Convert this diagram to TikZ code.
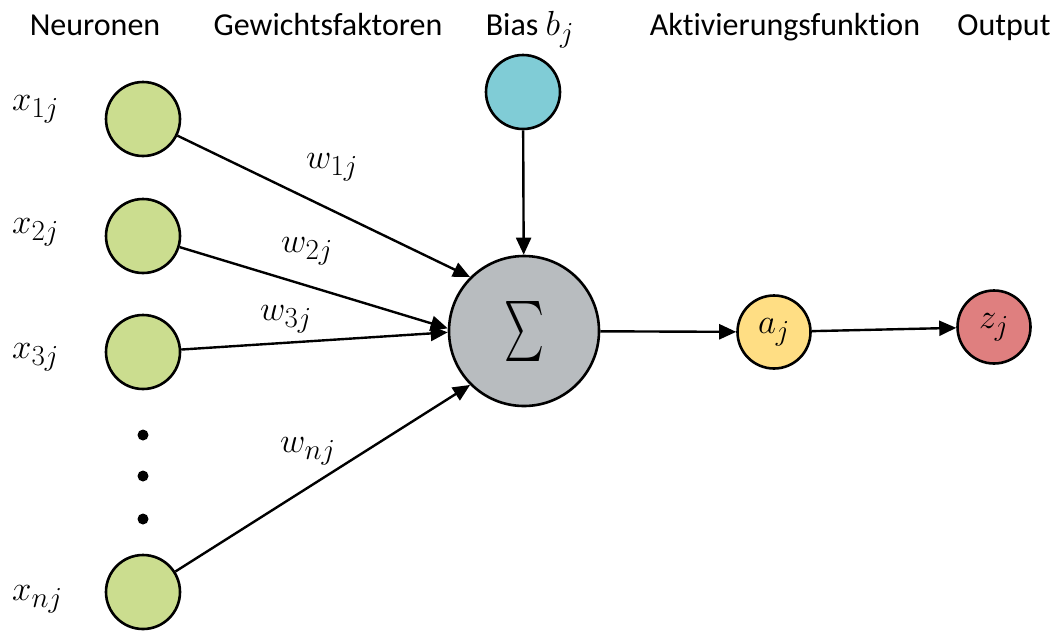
\documentclass[tikz,border=0pt]{standalone}
\usepackage{fix-cm}
\usepackage{exscale}
\usepackage{fontspec}
\setmainfont{Carlito}[Ligatures=NoCommon]
\usetikzlibrary{arrows.meta}
\definecolor{ingreen}{RGB}{203,221,143}
\definecolor{biasblue}{RGB}{128,204,214}
\definecolor{sumgray}{RGB}{184,188,191}
\definecolor{actyellow}{RGB}{255,222,132}
\definecolor{outred}{RGB}{223,127,127}
\newcommand{\lblmath}[1]{\scalebox{1.4}{\fontsize{24.88}{30}\selectfont$#1$}}
\tikzset{
  neuron/.style={circle,draw=black,line width=2.6pt,minimum size=74pt,inner sep=0pt},
  small/.style={circle,draw=black,line width=2.6pt,minimum size=73pt,inner sep=0pt},
  head/.style={anchor=base,font=\fontsize{32}{38}\selectfont,inner sep=0pt},
  mlabel/.style={anchor=base west,inner sep=0pt},
  conn/.style={line width=2.4pt,-{Triangle[length=17pt,width=15pt]}},
  dotmark/.style={circle,fill=black,minimum size=11pt,inner sep=0pt}
}
\begin{document}
\begin{tikzpicture}[x=1pt,y=-1pt]
\useasboundingbox (0,0) rectangle (1054,630);
% headers
\node[head] (h1) at (95,35) {Neuronen};
\node[head] (h2) at (328,35) {Gewichtsfaktoren};
\node[head] (h3) at (530,35) {Bias \lblmath{b_j}};
\node[head] (h4) at (785,35) {Aktivierungsfunktion};
\node[head] (h5) at (1004,35) {Output};
% input neurons
\node[neuron,fill=ingreen] (x1) at (143,119) {};
\node[neuron,fill=ingreen] (x2) at (143,236) {};
\node[neuron,fill=ingreen] (x3) at (143,352) {};
\node[neuron,fill=ingreen] (xn) at (143,592) {};
\node[dotmark] (d1) at (143,435) {};
\node[dotmark] (d2) at (143,476) {};
\node[dotmark] (d3) at (143,519) {};
% input labels
\node[mlabel] (lx1) at (12,110) {\lblmath{x_{1j}}};
\node[mlabel] (lx2) at (12,233) {\lblmath{x_{2j}}};
\node[mlabel] (lx3) at (12,358) {\lblmath{x_{3j}}};
\node[mlabel] (lxn) at (12,600) {\lblmath{x_{nj}}};
% bias, sum, activation, output
\node[neuron,fill=biasblue] (b) at (523,92) {};
\node[circle,draw=black,line width=2.6pt,minimum size=150pt,inner sep=0pt,fill=sumgray] (s) at (524,331) {\resizebox*{40pt}{60pt}{$\sum$}};
\node[small,fill=actyellow] (a) at (774,332) {\lblmath{a_j}};
\node[small,fill=outred] (z) at (994,327) {\lblmath{z_j}};
% connectors
\draw[conn] (x1) -- (s.135);
\draw[conn] (x2) -- (s.178);
\draw[conn] (x3) -- (s.181);
\draw[conn] (xn) -- (s.225);
\draw[conn] (b) -- (s);
\draw[conn] (s) -- (a);
\draw[conn] (a) -- (z);
% weight labels
\node[mlabel] (w1) at (306,168) {\lblmath{w_{1j}}};
\node[mlabel] (w2) at (281,252) {\lblmath{w_{2j}}};
\node[mlabel] (w3) at (260,320) {\lblmath{w_{3j}}};
\node[mlabel] (wn) at (280,452) {\lblmath{w_{nj}}};
\end{tikzpicture}
\end{document}
